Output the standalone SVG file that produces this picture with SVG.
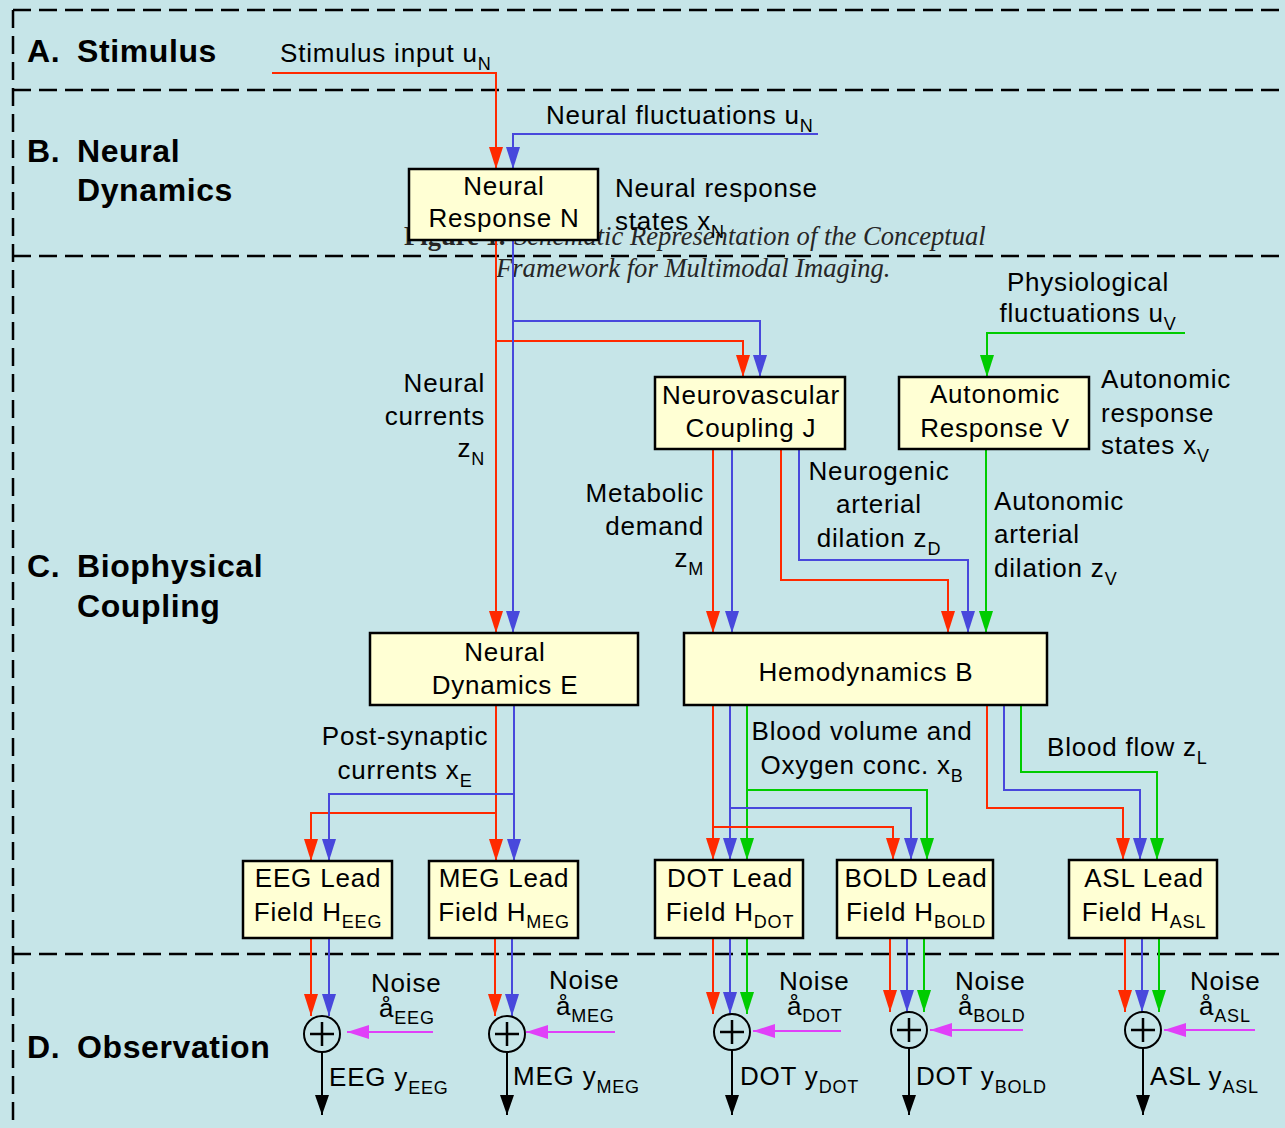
<svg xmlns="http://www.w3.org/2000/svg" width="1285" height="1128" viewBox="0 0 1285 1128">
<defs>
<style>
.bg{fill:#c6e5e8}
.dash{stroke:#000;stroke-width:2.5;stroke-dasharray:18 8;fill:none}
.box{fill:#ffffd4;stroke:#000;stroke-width:2.5}
text{font-family:"Liberation Sans",Arial,sans-serif;font-size:26px;fill:#000;letter-spacing:0.8px}
.sec{font-size:32px;font-weight:bold;letter-spacing:0.6px}
.c{text-anchor:middle}
.e{text-anchor:end}
.cap{font-family:"Liberation Serif","Times New Roman",serif;font-size:26.6px;fill:#262626;font-style:italic;letter-spacing:0}
.r{stroke:#ff2a00;stroke-width:2;fill:none;marker-end:url(#ar)}
.b{stroke:#4848dc;stroke-width:2;fill:none;marker-end:url(#ab)}
.g{stroke:#00cc00;stroke-width:2;fill:none;marker-end:url(#ag)}
.m{stroke:#e040f8;stroke-width:2;fill:none;marker-end:url(#am)}
.k{stroke:#000;stroke-width:2;fill:none;marker-end:url(#ak)}
.sum circle{fill:none;stroke:#000;stroke-width:2}
.sum path{stroke:#000;stroke-width:2.5;fill:none}
</style>
<marker id="ar" markerUnits="userSpaceOnUse" markerWidth="22" markerHeight="14" refX="22" refY="7" orient="auto"><path d="M0,0 L22,7 L0,14 z" fill="#ff2a00"/></marker>
<marker id="ab" markerUnits="userSpaceOnUse" markerWidth="22" markerHeight="14" refX="22" refY="7" orient="auto"><path d="M0,0 L22,7 L0,14 z" fill="#4848dc"/></marker>
<marker id="ag" markerUnits="userSpaceOnUse" markerWidth="22" markerHeight="14" refX="22" refY="7" orient="auto"><path d="M0,0 L22,7 L0,14 z" fill="#00cc00"/></marker>
<marker id="am" markerUnits="userSpaceOnUse" markerWidth="22" markerHeight="14" refX="22" refY="7" orient="auto"><path d="M0,0 L22,7 L0,14 z" fill="#e040f8"/></marker>
<marker id="ak" markerUnits="userSpaceOnUse" markerWidth="20" markerHeight="14" refX="20" refY="7" orient="auto"><path d="M0,0 L20,7 L0,14 z" fill="#000"/></marker>
</defs>
<rect class="bg" x="0" y="0" width="1285" height="1128"/>
<g id="frame">
<path class="dash" d="M13,10 H1285"/>
<path class="dash" d="M13,10 V1128"/>
<path class="dash" d="M13,90 H1285"/>
<path class="dash" d="M13,256 H1285"/>
<path class="dash" d="M13,954 H1285"/>
</g>
<g id="caption">
<text class="cap" x="404" y="245"><tspan font-style="normal" font-weight="bold">Figure 1.</tspan><tspan x="514">Schematic Representation of the Conceptual</tspan></text>
<text class="cap" x="496" y="277">Framework for Multimodal Imaging.</text>
</g>
<g id="sections">
<text class="sec" x="27" y="62">A.</text><text class="sec" x="77" y="62">Stimulus</text>
<text class="sec" x="27" y="162">B.</text><text class="sec" x="77" y="162">Neural</text><text class="sec" x="77" y="201">Dynamics</text>
<text class="sec" x="27" y="577">C.</text><text class="sec" x="77" y="577">Biophysical</text><text class="sec" x="77" y="617">Coupling</text>
<text class="sec" x="27" y="1058">D.</text><text class="sec" x="77" y="1058">Observation</text>
</g>
<g id="connectors">
<path class="r" d="M272,73 H496 V169"/>
<path class="b" d="M818,134 H513 V169"/>
<path class="r" d="M496,240 V633"/>
<path class="r" d="M496,341 H743 V377"/>
<path class="b" d="M513,240 V633"/>
<path class="b" d="M513,321 H760 V377"/>
<path class="g" d="M1185,333 H987 V377"/>
<path class="r" d="M713,450 V633"/>
<path class="b" d="M732,450 V633"/>
<path class="r" d="M781,450 V580 H948 V633"/>
<path class="b" d="M799,450 V560 H968 V633"/>
<path class="g" d="M986,450 V633"/>
<path class="r" d="M496,705 V861"/>
<path class="r" d="M496,813 H311 V861"/>
<path class="b" d="M514,705 V861"/>
<path class="b" d="M514,794 H329 V861"/>
<path class="r" d="M713,705 V860"/>
<path class="b" d="M730,705 V860"/>
<path class="g" d="M747,705 V860"/>
<path class="r" d="M713,827 H893 V860"/>
<path class="b" d="M730,808 H911 V860"/>
<path class="g" d="M747,790 H927 V860"/>
<path class="r" d="M987,705 V808 H1123 V860"/>
<path class="b" d="M1004,705 V790 H1140 V860"/>
<path class="g" d="M1021,705 V772 H1157 V860"/>
<path class="r" d="M311,938 V1016"/>
<path class="b" d="M329,938 V1016"/>
<path class="r" d="M495,938 V1016"/>
<path class="b" d="M512,938 V1016"/>
<path class="r" d="M713,938 V1014"/>
<path class="b" d="M730,938 V1014"/>
<path class="g" d="M747,938 V1014"/>
<path class="r" d="M890,938 V1012"/>
<path class="b" d="M907,938 V1012"/>
<path class="g" d="M924,938 V1012"/>
<path class="r" d="M1125,938 V1012"/>
<path class="b" d="M1142,938 V1012"/>
<path class="g" d="M1159,938 V1012"/>
<path class="m" d="M433,1032 H347"/>
<path class="m" d="M615,1032 H526"/>
<path class="m" d="M841,1031 H753"/>
<path class="m" d="M1023,1030 H930"/>
<path class="m" d="M1255,1030 H1164"/>
<path class="k" d="M322,1052 V1115"/>
<path class="k" d="M507,1052 V1115"/>
<path class="k" d="M732,1050 V1115"/>
<path class="k" d="M909,1048 V1115"/>
<path class="k" d="M1143,1048 V1115"/>
</g>
<g id="nodeN"><rect class="box" x="409" y="169" width="189" height="71"/><text class="c" x="504" y="195">Neural</text><text class="c" x="504" y="227">Response N</text></g>
<g id="nodeJ"><rect class="box" x="655" y="377" width="190" height="72"/><text class="c" x="751" y="404">Neurovascular</text><text class="c" x="751" y="437">Coupling J</text></g>
<g id="nodeV"><rect class="box" x="899" y="377" width="190" height="72"/><text class="c" x="995" y="403">Autonomic</text><text class="c" x="995" y="437">Response V</text></g>
<g id="nodeE"><rect class="box" x="370" y="633" width="268" height="72"/><text class="c" x="505" y="661">Neural</text><text class="c" x="505" y="694">Dynamics E</text></g>
<g id="nodeB"><rect class="box" x="684" y="633" width="363" height="72"/><text class="c" x="866" y="681">Hemodynamics B</text></g>
<g id="nodeEEG"><rect class="box" x="243" y="861" width="149" height="77"/><text class="c" x="318" y="887">EEG Lead</text><text class="c" x="318" y="921">Field H<tspan dy="7" font-size="18">EEG</tspan></text></g>
<g id="nodeMEG"><rect class="box" x="429" y="861" width="149" height="77"/><text class="c" x="504" y="887">MEG Lead</text><text class="c" x="504" y="921">Field H<tspan dy="7" font-size="18">MEG</tspan></text></g>
<g id="nodeDOT"><rect class="box" x="655" y="860" width="148" height="78"/><text class="c" x="730" y="887">DOT Lead</text><text class="c" x="730" y="921">Field H<tspan dy="7" font-size="18">DOT</tspan></text></g>
<g id="nodeBOLD"><rect class="box" x="837" y="860" width="156" height="78"/><text class="c" x="916" y="887">BOLD Lead</text><text class="c" x="916" y="921">Field H<tspan dy="7" font-size="18">BOLD</tspan></text></g>
<g id="nodeASL"><rect class="box" x="1069" y="860" width="148" height="78"/><text class="c" x="1144" y="887">ASL Lead</text><text class="c" x="1144" y="921">Field H<tspan dy="7" font-size="18">ASL</tspan></text></g>
<g id="sumEEG" class="sum"><circle cx="322" cy="1034" r="18"/><path d="M310,1034 H334 M322,1022 V1046"/></g>
<g id="sumMEG" class="sum"><circle cx="507" cy="1034" r="18"/><path d="M495,1034 H519 M507,1022 V1046"/></g>
<g id="sumDOT" class="sum"><circle cx="732" cy="1032" r="18"/><path d="M720,1032 H744 M732,1020 V1044"/></g>
<g id="sumBOLD" class="sum"><circle cx="909" cy="1030" r="18"/><path d="M897,1030 H921 M909,1018 V1042"/></g>
<g id="sumASL" class="sum"><circle cx="1143" cy="1030" r="18"/><path d="M1131,1030 H1155 M1143,1018 V1042"/></g>
<g id="labels">
<text x="280" y="62">Stimulus input u<tspan dy="8" font-size="18">N</tspan></text>
<text x="546" y="124">Neural fluctuations u<tspan dy="8" font-size="18">N</tspan></text>
<text x="615" y="197">Neural response</text>
<text x="615" y="230">states x<tspan dy="8" font-size="18">N</tspan></text>
<text class="e" x="485" y="392">Neural</text>
<text class="e" x="485" y="425">currents</text>
<text class="e" x="485" y="457">z<tspan dy="8" font-size="18">N</tspan></text>
<text class="e" x="704" y="502">Metabolic</text>
<text class="e" x="704" y="535">demand</text>
<text class="e" x="704" y="567">z<tspan dy="8" font-size="18">M</tspan></text>
<text class="c" x="879" y="480">Neurogenic</text>
<text class="c" x="879" y="513">arterial</text>
<text class="c" x="879" y="547">dilation z<tspan dy="8" font-size="18">D</tspan></text>
<text class="c" x="1088" y="291">Physiological</text>
<text class="c" x="1088" y="322">fluctuations u<tspan dy="8" font-size="18">V</tspan></text>
<text x="1101" y="388">Autonomic</text>
<text x="1101" y="422">response</text>
<text x="1101" y="454">states x<tspan dy="8" font-size="18">V</tspan></text>
<text x="994" y="510">Autonomic</text>
<text x="994" y="543">arterial</text>
<text x="994" y="577">dilation z<tspan dy="8" font-size="18">V</tspan></text>
<text class="c" x="405" y="745">Post-synaptic</text>
<text class="c" x="405" y="779">currents x<tspan dy="8" font-size="18">E</tspan></text>
<text class="c" x="862" y="740">Blood volume and</text>
<text class="c" x="862" y="774">Oxygen conc. x<tspan dy="8" font-size="18">B</tspan></text>
<text x="1047" y="756">Blood flow z<tspan dy="8" font-size="18">L</tspan></text>
<text x="371" y="992">Noise</text><text x="379" y="1017">å<tspan dy="7" font-size="18">EEG</tspan></text>
<text x="549" y="989">Noise</text><text x="556" y="1015">å<tspan dy="7" font-size="18">MEG</tspan></text>
<text x="779" y="990">Noise</text><text x="787" y="1015">å<tspan dy="7" font-size="18">DOT</tspan></text>
<text x="955" y="990">Noise</text><text x="958" y="1015">å<tspan dy="7" font-size="18">BOLD</tspan></text>
<text x="1190" y="990">Noise</text><text x="1199" y="1015">å<tspan dy="7" font-size="18">ASL</tspan></text>
<text x="329" y="1086">EEG y<tspan dy="8" font-size="18">EEG</tspan></text>
<text x="513" y="1085">MEG y<tspan dy="8" font-size="18">MEG</tspan></text>
<text x="740" y="1085">DOT y<tspan dy="8" font-size="18">DOT</tspan></text>
<text x="916" y="1085">DOT y<tspan dy="8" font-size="18">BOLD</tspan></text>
<text x="1150" y="1085">ASL y<tspan dy="8" font-size="18">ASL</tspan></text>
</g>
</svg>
